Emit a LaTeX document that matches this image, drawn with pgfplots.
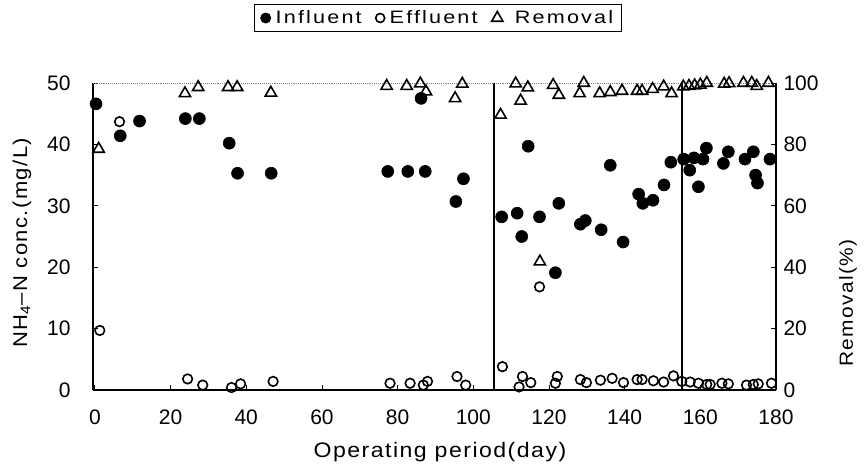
\documentclass[border=0pt]{standalone}
\usepackage{pgfplots}
\pgfplotsset{compat=1.18}
\usepackage{fontspec}
\setmainfont{Liberation Sans}
\newfontfamily\labfont[FakeStretch=1.1, LetterSpace=7]{Liberation Sans}
\newfontfamily\legfont[FakeStretch=1.2, LetterSpace=12]{Liberation Sans}

\pgfplotstableread{
x y
0.3 46.6
6.7 41.4
11.8 43.8
23.9 44.2
27.6 44.2
35.5 40.2
37.7 35.3
46.6 35.3
77.4 35.6
82.7 35.6
86.2 47.5
87.3 35.6
95.4 30.7
97.4 34.4
107.5 28.2
111.6 28.8
112.8 25.0
114.5 39.7
117.5 28.2
121.7 19.1
122.6 30.4
128.3 27.0
129.6 27.6
133.8 26.1
136.2 36.6
139.6 24.1
143.7 31.9
144.8 30.4
147.5 30.9
150.4 33.4
152.2 37.1
155.6 37.6
157.2 35.8
158.3 37.8
159.5 33.1
160.7 37.6
161.6 39.4
166.1 36.9
167.4 38.8
171.8 37.6
174.0 38.8
174.6 35.0
175.1 33.7
178.4 37.6
}\influent

\pgfplotstableread{
x y
1.3 9.7
6.5 43.7
24.5 1.8
28.5 0.8
36.1 0.4
38.5 1.0
47.1 1.4
78.0 1.1
83.3 1.1
86.8 0.8
87.9 1.4
95.7 2.2
98.0 0.8
107.7 3.8
112.1 0.5
113.0 2.2
115.2 1.2
117.5 16.8
121.7 1.1
122.2 2.2
128.3 1.7
129.9 1.2
133.6 1.6
136.7 1.9
139.7 1.2
143.3 1.7
144.6 1.7
147.6 1.5
150.3 1.3
152.9 2.3
155.1 1.4
157.3 1.3
159.5 1.1
161.7 0.9
162.6 0.9
165.7 1.1
167.4 1.0
172.2 0.8
174.0 0.9
175.3 1.0
178.8 1.1
}\effluent

\pgfplotstableread{
x y
1.0 78.5
23.8 96.6
27.3 98.6
35.2 98.6
37.6 98.6
46.5 96.8
77.1 99.0
82.4 99.0
86.0 99.8
87.5 97.2
95.2 95.0
97.1 99.7
107.2 89.6
111.2 99.8
112.5 94.2
114.4 98.5
117.6 41.8
121.1 99.3
122.6 96.1
128.1 96.6
129.2 100
133.4 96.6
136.2 97.0
139.3 97.4
143.3 97.4
144.6 97.4
147.4 98.0
150.3 98.8
152.4 96.6
155.5 98.8
157.0 99.0
158.5 99.2
160.0 99.4
161.7 100
166.3 99.7
167.6 99.9
171.4 100
173.6 100
174.9 99.0
178.0 100
}\removal

\begin{document}
\begin{tikzpicture}
\useasboundingbox (0,0) rectangle (867pt,469pt);
\pgfplotsset{
  common/.style={
    scale only axis, width=683pt, height=307pt,
    at={(93pt,79pt)}, anchor=south west,
    xmin=-0.5, xmax=180,
    /pgf/number format/assume math mode=true,
    tick label style={font=\fontsize{21}{25}\selectfont},
    major tick length=5pt,
    tick style={black, line width=0.8pt},
    axis line style={black, line width=1.4pt},
    tick align=inside,
  }
}
\begin{axis}[common,
  axis x line*=bottom, axis y line*=left,
  ymin=0, ymax=50,
  xtick={0,20,...,180}, ytick={0,10,...,50},
  xticklabel style={yshift=-16pt},
  yticklabel style={xshift=-19pt},
  xlabel={Operating period(day)},
  xlabel style={font=\labfont\fontsize{21}{25}\selectfont, at={(rel axis cs:0.508,0)}, anchor=center, yshift=-62pt},
  ylabel={NH\textsubscript{4}–N conc.(mg/L)},
  ylabel style={font=\labfont\fontsize{20}{24}\selectfont, at={(rel axis cs:0,0.48)}, anchor=center, yshift=71pt},
]
\draw[gray, densely dotted, line width=0.9pt] (rel axis cs:0,1) -- (rel axis cs:1,1);
\addplot[black, line width=1.6pt] coordinates {(105.5,0) (105.5,50)};
\addplot[black, line width=1.6pt] coordinates {(155.1,0) (155.1,50)};
\addplot[only marks, mark=*, mark size=6pt, mark options={fill=black, draw=black, line width=0.6pt}] table[x=x, y=y] {\influent};
\addplot[only marks, mark=o, mark size=4.8pt, mark options={draw=black, line width=1.6pt}] table[x=x, y=y] {\effluent};
\end{axis}
\begin{axis}[common,
  axis x line=none, axis y line*=right,
  ymin=0, ymax=100,
  ytick={0,20,...,100},
  yticklabel style={xshift=4pt},
  ylabel={Removal(\%)},
  ylabel style={font=\labfont\fontsize{19}{23}\selectfont, at={(rel axis cs:1,0.283)}, anchor=center, yshift=-72pt},
  legend columns=3,
  legend style={at={(rel axis cs:0.505,1)}, anchor=center, yshift=65pt,
    draw=black, line width=0.9pt, font=\legfont\fontsize{18}{21}\selectfont,
    inner xsep=6pt, inner ysep=4pt,
    /tikz/every even column/.append style={column sep=12pt}},
  legend cell align=left,
]
\addlegendimage{only marks, mark=*, mark size=5pt, mark options={fill=black, draw=black}}
\addlegendentry{\hspace{3pt}Influent}
\addlegendimage{only marks, mark=o, mark size=4.5pt, mark options={draw=black, line width=1.6pt}}
\addlegendentry{\hspace{3pt}Effluent}
\addplot[only marks, mark=triangle, mark size=6.5pt, mark options={draw=black, line width=1.6pt}] table[x=x, y=y] {\removal};
\addlegendentry{\hspace{10pt}Removal}
\end{axis}
\end{tikzpicture}
\end{document}
